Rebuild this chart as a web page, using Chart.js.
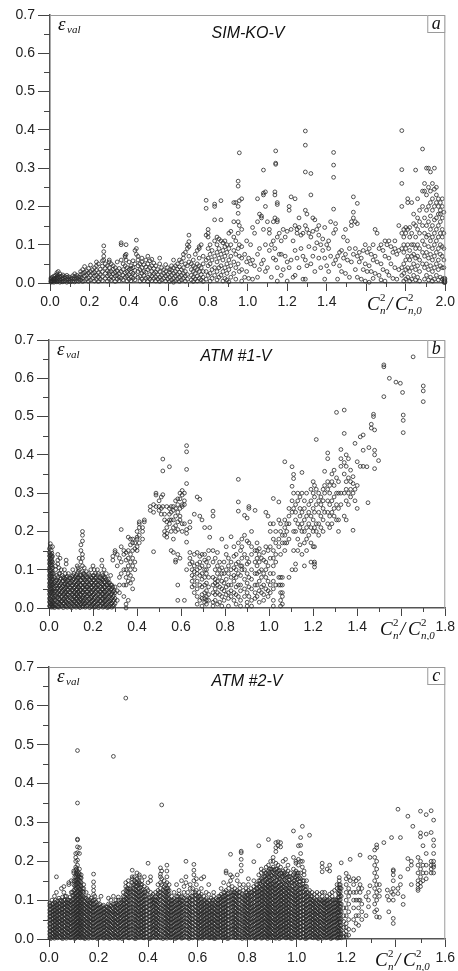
<!DOCTYPE html>
<html>
<head>
<meta charset="utf-8">
<script src="https://cdn.jsdelivr.net/npm/chart.js@4.4.1/dist/chart.umd.min.js"></script>
<style>
  body { margin: 0; background: #fff; width: 458px; height: 971px; overflow: hidden; }
  .panel { position: absolute; left: 0; width: 458px; }
</style>
</head>
<body>
<div class="panel" style="top:0;height:316px"><canvas id="chart-a"></canvas></div>
<div class="panel" style="top:320px;height:320px"><canvas id="chart-b"></canvas></div>
<div class="panel" style="top:645px;height:326px"><canvas id="chart-c"></canvas></div>
<script>
// each row: [x, y1, y2, ...]
const simKoV = [
  [0.005,.002,.006,.01,.004,.013],[0.012,.003,.008,.015,.005],[0.02,.002,.01,.018,.006,.012],
  [0.028,.004,.012,.02,.008],[0.035,.003,.009,.022,.015,.027],[0.042,.005,.013,.03,.019],
  [0.05,.002,.008,.016,.024],[0.058,.004,.011,.018],[0.065,.003,.009,.014,.021],
  [0.075,.005,.012,.017],[0.085,.002,.008,.015,.02],[0.095,.004,.01,.016],
  [0.105,.003,.009,.014],[0.115,.005,.012,.019],[0.125,.003,.01,.024,.017],
  [0.135,.006,.013,.02],[0.145,.004,.01,.016],[0.155,.008,.015,.022,.03],
  [0.165,.004,.012,.025,.035],[0.175,.006,.018,.028,.043],[0.185,.01,.021,.032],
  [0.195,.004,.014,.026,.038],[0.205,.008,.02,.047,.03],[0.215,.012,.025,.035],
  [0.225,.005,.018,.028,.04],[0.235,.009,.02,.033,.045,.055],[0.245,.004,.015,.027,.05],
  [0.255,.01,.022,.036],[0.265,.006,.017,.03,.044,.058],[0.272,.07,.082,.097,.06],
  [0.28,.012,.025,.038,.05],[0.29,.005,.018,.032,.045],[0.3,.01,.022,.028,.04,.055,.06],
  [0.31,.007,.016,.03,.05],[0.32,.012,.024,.036,.045],[0.33,.004,.018,.028,.04],
  [0.34,.01,.02,.032,.055],[0.35,.006,.015,.025,.038],[0.36,.012,.03,.06,.105,.1],
  [0.37,.008,.02,.035,.05],[0.38,.015,.027,.045,.068,.072],[0.385,.075,.1,.06],
  [0.39,.005,.018,.03,.04],[0.4,.01,.022,.035,.055],[0.41,.006,.015,.028,.045,.038],
  [0.42,.012,.025,.04,.058],[0.43,.008,.02,.033,.05,.085],[0.437,.112,.09,.075],
  [0.445,.015,.03,.045,.06,.07],[0.455,.005,.018,.035,.05],[0.465,.01,.025,.04,.055,.065],
  [0.475,.006,.02,.03,.048],[0.485,.012,.028,.042,.06],[0.495,.004,.015,.035,.05,.07],
  [0.505,.01,.022,.04,.058],[0.515,.006,.018,.03,.045,.062],[0.525,.012,.025,.038,.052],
  [0.535,.005,.016,.028,.045],[0.545,.01,.022,.035],[0.555,.004,.015,.03,.05,.065],
  [0.565,.008,.02,.04],[0.575,.012,.025,.035],[0.585,.005,.018,.03,.048],
  [0.595,.01,.022,.04],[0.605,.004,.015,.028,.035],[0.615,.008,.02,.033,.045],
  [0.625,.002,.012,.025,.06,.04],[0.635,.006,.018,.03,.045],[0.645,.01,.022,.036,.05],
  [0.655,.004,.015,.028,.042,.06],[0.665,.008,.02,.035,.055],[0.675,.012,.025,.04,.065,.075],
  [0.685,.005,.018,.03,.05,.08],[0.695,.01,.022,.045,.09,.1],[0.703,.125,.108,.095,.07,.055],
  [0.715,.008,.02,.035,.05],[0.725,.004,.015,.03,.045,.06],[0.735,.01,.025,.04,.075],
  [0.745,.005,.018,.035,.05,.085],[0.755,.012,.03,.045,.065,.095,.09],[0.765,.008,.022,.04,.1],
  [0.775,.004,.015,.03,.05,.07],[0.79,.216,.195,.125,.06,.03,.01],[0.8,.14,.13,.12,.09,.065,.045,.02],
  [0.81,.005,.025,.05,.075,.1],[0.82,.012,.035,.06,.085],[0.833,.206,.2,.165,.11,.07,.04,.02],
  [0.845,.008,.03,.055,.08,.1,.12],[0.855,.015,.04,.065,.09,.115],[0.865,.215,.165,.11,.075,.045,.02],
  [0.875,.005,.03,.06,.085,.105],[0.885,.012,.04,.07,.095,.11],[0.895,.008,.025,.05,.08,.1],
  [0.905,.003,.035,.06,.09,.13],[0.915,.015,.045,.07,.1,.135],[0.93,.21,.16,.12,.085,.055,.025],
  [0.94,.01,.04,.075,.11,.21],[0.952,.266,.253,.2,.182,.16,.13,.09,.05],[0.958,.34,.215,.15,.1,.07,.03],
  [0.97,.005,.035,.065,.095,.14,.22],
  [0.985,.015,.075],[0.995,.03,.11,.055],[1.005,.012,.065],[1.015,.05,.1],[1.025,.01,.06,.145],
  [1.035,.045,.13],[1.05,.22,.16,.075,.015],[1.06,.035,.09,.18],[1.07,.05,.17,.175],
  [1.08,.295,.235,.23,.14,.06],[1.09,.238,.2,.1,.03],[1.1,.04,.16],[1.11,.085,.13,.14],
  [1.12,.015,.1],[1.13,.065,.11,.16],[1.138,.238,.23,.17,.09],[1.142,.345,.313,.31,.06],
  [1.15,.21,.205,.165,.16,.12,.04,.005],[1.16,.075,.13],[1.17,.02,.11,.075],
  [1.18,.035,.14],[1.19,.07,.12],[1.2,.005,.055,.135],[1.21,.04,.2,.19],[1.22,.225,.14,.06],
  [1.23,.015,.11],[1.24,.22,.15,.085,.02],[1.25,.065,.13,.14],[1.26,.04,.145,.17],
  [1.27,.09,.125],[1.28,.01,.07,.13],[1.292,.397,.36,.29,.19,.15,.06,.01],
  [1.3,.045,.14,.18],[1.31,.095,.13],[1.32,.286,.23,.12,.05],[1.33,.07,.135,.17],
  [1.34,.03,.09,.165],[1.35,.105,.14],[1.36,.065,.125,.15],[1.37,.04,.1],[1.38,.085,.115],
  [1.39,.01,.065,.145],[1.4,.045,.1],[1.41,.03,.09,.11],[1.42,.07,.16],
  [1.435,.341,.308,.276,.193,.13,.05],[1.445,.06,.14,.155],[1.455,.01,.07],[1.465,.045,.08],
  [1.475,.03,.085],[1.485,.065,.12],[1.495,.025,.075,.14],[1.505,.06,.11],[1.515,.015,.09],
  [1.525,.055,.15,.16],[1.535,.225,.185,.17,.075],[1.545,.035,.09,.16],[1.555,.208,.155,.07,.015],
  [1.565,.055,.08],[1.575,.01,.065],[1.585,.035,.085],[1.595,.005,.05,.1],[1.605,.03,.08],
  [1.615,.002,.045,.09],[1.625,.03,.075],[1.635,.012,.06,.1],[1.645,.025,.07,.14],
  [1.655,.055,.13],[1.665,.02,.09],[1.675,.008,.05,.1],[1.685,.035,.085],[1.695,.005,.07,.11],
  [1.705,.03,.1],[1.715,.02,.065,.11],[1.725,.05,.095],[1.735,.012,.08],[1.745,.04,.09,.11],
  [1.755,.01,.075],[1.765,.035,.085,.15],
  [1.78,.398,.296,.26,.2,.13,.09,.04,.02],
  [1.79,.005,.025,.05,.08,.1,.12,.14],[1.8,.01,.035,.06,.09,.13,.145],[1.81,.015,.04,.07,.1,.14,.22,.21],
  [1.82,.005,.03,.06,.085,.12,.145],[1.83,.01,.04,.07,.1,.13,.21],[1.84,.02,.05,.075,.1,.155,.18],
  [1.85,.008,.035,.065,.09,.12,.15,.295],[1.86,.015,.045,.07,.1,.14,.17,.22],[1.87,.005,.03,.06,.09,.13,.16,.19],
  [1.885,.35,.24,.2,.15,.11,.08,.05],[1.895,.01,.04,.07,.1,.13,.17,.24,.26],[1.905,.02,.05,.08,.12,.15,.19,.23,.3],
  [1.915,.008,.035,.065,.095,.125,.16,.2,.25,.3],[1.925,.015,.045,.075,.11,.14,.175,.21,.24,.29],
  [1.935,.005,.03,.06,.09,.12,.15,.19,.22,.26],[1.945,.01,.04,.07,.1,.13,.165,.2,.245,.3],
  [1.955,.02,.05,.08,.11,.14,.17,.21,.23,.25],[1.965,.008,.035,.06,.09,.12,.15,.18,.2,.22],
  [1.975,.015,.045,.075,.1,.13,.16,.19,.21,.18],[1.985,.01,.04,.07,.095,.12,.14,.17,.2,.22],
  [1.993,.002,.006,.012,.04,.06,.09,.13,.185],[1.998,.001,.004,.008,.012]
];

const atm1V = [
  [0.002,.005,.016,.025,.036,.045,.056,.065,.076,.085,.096,.105,.116,.125,.136,.145,.155],
  [0.006,.003,.012,.022,.031,.042,.05,.061,.07,.082,.09,.1,.112,.12,.13,.14,.16,.168],
  [0.01,.008,.018,.028,.04,.048,.058,.068,.078,.088,.098,.108,.118,.128,.138,.15],
  [0.013,.002,.01,.02,.033,.043,.053,.063,.073,.083,.093,.103,.113,.123,.133,.143],
  [0.016,.005,.015,.03,.045,.06,.075,.09,.105,.12,.135,.16],
  [0.02,.004,.014,.026,.038,.05,.062,.075,.09],[0.03,.008,.02,.032,.044,.058,.07,.1,.11],
  [0.04,.003,.015,.028,.04,.052,.065,.08,.115,.125,.14],[0.05,.01,.022,.035,.048,.06,.075,.09,.13],
  [0.06,.005,.018,.03,.043,.056,.07,.085],[0.07,.012,.025,.038,.05,.063,.078,.1],
  [0.078,.004,.016,.03,.042,.055,.068,.08,.115,.125],[0.088,.009,.021,.034,.047,.06,.072,.09],
  [0.098,.003,.014,.027,.04,.052,.065,.078],[0.108,.01,.022,.035,.048,.06,.075,.085,.1],
  [0.118,.005,.017,.03,.042,.055,.068,.08],[0.128,.012,.025,.038,.05,.063,.078,.09,.11],
  [0.137,.004,.016,.028,.041,.054,.067,.08,.1,.13],[0.145,.009,.02,.033,.046,.06,.072,.085,.12,.15,.165],
  [0.152,.003,.014,.026,.04,.052,.065,.08,.095,.11,.13,.14,.175,.19,.2],[0.16,.01,.022,.035,.048,.06,.075,.09,.105],
  [0.17,.005,.017,.03,.042,.055,.068,.08,.095],[0.18,.012,.024,.037,.05,.062,.075,.09],
  [0.19,.004,.016,.028,.04,.053,.066,.08,.1],[0.2,.009,.021,.034,.047,.06,.073,.085,.11],
  [0.21,.003,.015,.027,.04,.052,.065,.078,.09],[0.22,.01,.022,.035,.048,.06,.072,.085,.1],
  [0.23,.005,.018,.03,.043,.056,.07,.08],[0.24,.012,.025,.038,.05,.063,.076,.09,.125,.11],
  [0.25,.004,.016,.029,.042,.055,.068,.08,.1],[0.26,.009,.02,.033,.046,.06,.075,.09],
  [0.27,.003,.015,.028,.04,.052,.065,.075],[0.28,.01,.022,.035,.048,.06,.085],
  [0.29,.005,.018,.03,.043,.055,.125,.135],[0.3,.012,.025,.04,.055,.145,.15],
  [0.31,.02,.045,.11,.14],[0.32,.04,.06,.08,.13],[0.328,.205,.16,.12,.09],
  [0.34,.1,.14,.03,.06,.15],[0.35,.0,.01,.06,.08,.1,.125,.145],[0.36,.02,.07,.09,.11,.13,.15,.185],
  [0.37,.065,.085,.1,.12,.14,.165,.18],[0.38,.05,.075,.11,.13,.15,.17,.18],[0.39,.1,.12,.155,.17],
  [0.4,.15,.16,.18,.185,.2],[0.41,.17,.19,.21,.225,.22],[0.425,.18,.2,.21],[0.433,.23,.225],
  [0.46,.265,.255],[0.475,.147,.27,.25],[0.486,.3,.295,.265],[0.5,.265,.255,.28],
  [0.51,.26,.29,.245],[0.517,.389,.358,.296,.265],[0.525,.23,.245,.19,.2],
  [0.535,.265,.195,.185,.21,.225],[0.547,.369,.26,.245,.22,.23],[0.555,.265,.25,.23,.2,.15],
  [0.565,.265,.255,.23,.21,.18,.145],[0.575,.26,.28,.24,.215,.2,.125,.12],
  [0.585,.285,.27,.25,.225,.205,.06,.02,.14],[0.595,.3,.285,.26,.24,.23,.13],
  [0.605,.307,.295,.27,.265,.22,.2],[0.615,.3,.28,.27,.22,.02],
  [0.625,.424,.408,.362,.325,.205,.195,.172,.1],[0.64,.225,.21,.145,.13,.115],
  [0.65,.12,.1,.085,.07,.055],[0.66,.245,.14,.11,.095,.08,.06,.04],
  [0.673,.29,.145,.115,.1,.09,.07,.05,.03,.01],[0.685,.284,.24,.135,.12,.105,.085,.06,.02],
  [0.695,.23,.14,.11,.09,.075,.055,.035,.025,.005],[0.707,.21,.14,.125,.1,.08,.06,.04,.025,.015],
  [0.715,.12,.1,.09,.065,.045,.03,.02,.01],[0.725,.15,.13,.11,.08,.055,.035,.02],[0.73,.21,.185],
  [0.745,.253,.24,.15,.12,.08,.06,.04,.015,.005],[0.755,.13,.1,.075,.065,.05,.035,.02],
  [0.765,.145,.11,.09,.07,.06,.04,.01],[0.775,.12,.1,.08,.055,.035,.015],
  [0.785,.18,.105,.09,.07,.05,.03,.005],[0.795,.12,.09,.065,.045,.02],
  [0.805,.16,.14,.1,.075,.055,.035],[0.815,.13,.11,.09,.06,.04,.025,.005],
  [0.827,.186,.12,.1,.08,.06,.045,.03],[0.84,.16,.135,.105,.085,.07,.04,.02],
  [0.85,.14,.115,.1,.08,.055,.035,.01],[0.86,.336,.277,.253,.17,.12,.09,.06,.03],
  [0.87,.15,.11,.085,.06,.045,.02,.005],[0.876,.18,.16,.13,.11,.1],
  [0.888,.242,.19,.14,.1,.075,.05,.03],[0.9,.235,.175,.13,.115,.09,.065,.04,.015,.005],
  [0.908,.265,.26,.17,.12,.08,.055,.03],[0.92,.2,.16,.14,.1,.075,.05,.02,.005],
  [0.936,.255,.15,.12,.09,.06,.04,.025],[0.945,.17,.15,.13,.11,.09,.06,.03],
  [0.955,.155,.14,.12,.095,.07,.045,.015],[0.965,.13,.1,.08,.055,.04],
  [0.975,.145,.125,.09,.06,.035,.02],[0.985,.25,.16,.12,.1,.08,.05],
  [0.995,.24,.15,.11,.07,.045,.03],[1.005,.22,.2,.16,.13,.09,.06,.04],
  [1.019,.286,.22,.18,.15,.13,.11,.09,.07,.05,.02,.005],[1.03,.2,.17,.14,.12,.06],
  [1.044,.277,.23,.18,.16,.08,.06],[1.052,.22,.2,.14,.08,.06,.04,.02,.005],
  [1.06,.19,.17,.08,.06,.04,.03,.01],[1.071,.382,.23,.21,.19,.17,.15],[1.08,.22,.2,.17],
  [1.09,.26,.24,.22,.18,.08],[1.104,.369,.318,.28,.25,.1],[1.111,.349,.338,.3,.26,.2,.15],
  [1.12,.27,.25,.23,.2,.115,.1],[1.13,.3,.28,.22,.18,.15],[1.14,.29,.26,.24,.21,.165],
  [1.149,.354,.3,.25,.22,.2,.14],[1.16,.28,.26,.23,.2,.17,.11],[1.17,.3,.24,.21,.18,.15],
  [1.18,.27,.25,.22,.19],[1.19,.31,.28,.24,.21,.17,.12],[1.2,.33,.3,.26,.23,.2,.16],
  [1.206,.32,.29,.25,.21,.16,.12,.115,.107],[1.214,.44,.31,.27,.22,.2],[1.225,.3,.28,.25,.22,.19],
  [1.235,.29,.27,.24,.21],[1.245,.31,.28,.26,.23,.2],[1.252,.357,.32,.3,.25],
  [1.266,.405,.39,.33,.31,.28,.25,.22],[1.275,.32,.3,.27,.24,.21],[1.285,.35,.33,.28,.25,.22],
  [1.295,.36,.32,.29,.26,.24],[1.306,.511,.34,.3,.27,.23],[1.315,.33,.3,.26,.23,.2],
  [1.326,.414,.39,.37,.3,.27],[1.341,.517,.456,.38,.35,.3,.24],[1.35,.4,.37,.33,.31,.28,.23],
  [1.36,.39,.34,.3,.27],[1.37,.36,.33,.31,.29],[1.381,.343,.325,.3,.203],[1.39,.43,.31,.28],
  [1.4,.382,.32,.26],[1.414,.447,.37],[1.427,.452,.412,.37],[1.444,.369],[1.449,.275],
  [1.453,.419],[1.464,.48,.47],[1.474,.506,.5],[1.479,.465,.412,.4,.364],[1.497,.385],
  [1.521,.635,.63,.552],[1.546,.6],[1.576,.59],[1.596,.587],[1.606,.563],
  [1.609,.504,.49,.458],[1.654,.656],[1.7,.58,.567,.539]
];

// the dark block near the origin of panel b, between the columns above
const atm1VDense = [
  [0.025,.001,.01,.02,.03,.042,.053,.066,.08],[0.035,.005,.016,.027,.038,.05,.061,.073,.085],
  [0.045,.002,.012,.024,.035,.046,.058,.07,.09,.105],[0.055,.007,.018,.03,.041,.052,.064,.077,.1],
  [0.065,.001,.012,.023,.035,.046,.058,.07,.08],[0.074,.006,.017,.028,.04,.052,.063,.075,.09],
  [0.083,.002,.013,.025,.036,.048,.06,.072,.083],[0.093,.007,.018,.03,.042,.054,.066,.078],
  [0.103,.001,.012,.024,.035,.047,.059,.07,.082],[0.113,.006,.017,.029,.04,.052,.064,.076,.09],
  [0.123,.002,.013,.025,.037,.048,.06,.072,.085],[0.132,.007,.019,.03,.042,.054,.066,.08,.095,.105],
  [0.141,.001,.012,.024,.036,.048,.06,.072,.085],[0.156,.006,.018,.03,.042,.054,.066,.078,.09],
  [0.165,.002,.013,.025,.037,.049,.061,.073,.085],[0.175,.007,.019,.031,.043,.055,.067,.08],
  [0.185,.001,.012,.024,.036,.048,.06,.072,.085],[0.195,.006,.018,.03,.042,.054,.066,.078],
  [0.205,.002,.013,.025,.037,.049,.061,.073,.085,.1],[0.215,.007,.019,.031,.043,.055,.067,.08],
  [0.225,.001,.012,.024,.036,.048,.06,.072,.09],[0.235,.006,.018,.03,.042,.054,.066,.078],
  [0.245,.002,.013,.025,.037,.049,.061,.073,.085],[0.255,.007,.019,.031,.043,.055,.067,.08],
  [0.265,.001,.012,.024,.036,.048,.06,.07],[0.275,.006,.018,.03,.042,.054,.066],
  [0.285,.002,.013,.025,.037,.05,.06],[0.295,.007,.02,.033,.045]
];

const atm2V = [
  [0.003,.003,.012,.02,.03,.04,.05,.058,.067,.075,.085,.092],
  [0.012,.006,.015,.024,.033,.043,.052,.062,.07,.08,.09,.1],
  [0.022,.002,.01,.019,.028,.037,.047,.056,.065,.074,.083,.095,.11],
  [0.03,.005,.014,.023,.032,.042,.051,.06,.07,.079,.088,.16,.12],
  [0.04,.008,.017,.026,.036,.045,.054,.064,.073,.082,.092,.105],
  [0.05,.003,.012,.021,.03,.04,.049,.058,.068,.077,.087,.098,.13],
  [0.06,.006,.015,.025,.034,.043,.053,.062,.071,.081,.09,.1,.12,.135],
  [0.07,.002,.011,.02,.029,.039,.048,.057,.067,.076,.086,.095,.11],
  [0.08,.007,.016,.025,.035,.044,.053,.063,.072,.082,.091,.1,.14,.145],
  [0.09,.004,.013,.022,.031,.041,.05,.06,.069,.078,.088,.097,.12,.15],
  [0.1,.008,.017,.026,.036,.045,.055,.064,.073,.083,.092,.102,.112,.125,.14,.15,.17,.175],
  [0.108,.003,.012,.021,.031,.04,.05,.059,.068,.078,.087,.097,.107,.118,.13,.14,.152,.165,.178,.185,.2,.21,.22],
  [0.115,.007,.016,.025,.035,.044,.054,.063,.072,.082,.092,.102,.112,.122,.134,.145,.155,.166,.175,.19,.203,.222,.237,.257,.255,.35,.485],
  [0.123,.004,.013,.022,.032,.041,.05,.06,.069,.079,.088,.098,.108,.118,.128,.14,.15,.16,.168,.18,.235,.22],
  [0.13,.008,.017,.027,.036,.046,.055,.065,.074,.084,.093,.103,.113,.124,.135,.145,.157,.165],
  [0.14,.003,.012,.021,.031,.04,.05,.059,.069,.078,.088,.097,.108,.12,.13,.14],
  [0.15,.006,.015,.025,.034,.044,.053,.063,.072,.082,.092,.105,.12],
  [0.16,.002,.011,.02,.03,.039,.049,.058,.068,.077,.087,.096,.11],
  [0.17,.007,.016,.026,.035,.045,.054,.064,.073,.083,.093,.105],
  [0.18,.004,.013,.023,.032,.042,.051,.061,.07,.08,.09,.1,.115,.125,.135,.147,.167],
  [0.19,.008,.017,.027,.036,.046,.055,.065,.074,.084,.095],
  [0.2,.003,.012,.022,.031,.041,.05,.06,.069,.079,.088,.1],
  [0.21,.006,.015,.025,.034,.044,.053,.063,.072,.082,.11],
  [0.22,.002,.011,.021,.03,.04,.049,.059,.068,.078,.087],
  [0.23,.007,.016,.026,.035,.045,.054,.064,.073,.083],
  [0.24,.004,.013,.023,.032,.042,.051,.061,.07,.08,.09,.105],
  [0.25,.008,.017,.027,.036,.046,.055,.065,.074,.085,.1],
  [0.26,.003,.012,.022,.031,.041,.05,.06,.069,.079,.09,.11,.47],
  [0.27,.006,.015,.025,.034,.044,.053,.063,.072,.082,.092,.1],
  [0.28,.002,.011,.021,.03,.04,.049,.059,.068,.078,.088,.1,.108],
  [0.29,.007,.016,.026,.035,.045,.054,.064,.073,.083,.093,.1],
  [0.3,.004,.013,.023,.032,.042,.051,.061,.07,.08,.09,.1,.11,.12],
  [0.31,.008,.017,.027,.036,.046,.055,.065,.074,.084,.094,.104,.115,.125,.135,.145,.62],
  [0.32,.003,.012,.022,.031,.041,.05,.06,.069,.079,.089,.1,.11,.12,.13,.14,.15],
  [0.33,.006,.015,.025,.034,.044,.053,.063,.072,.082,.092,.102,.112,.122,.13],
  [0.336,.16,.177,.155,.145],
  [0.345,.002,.011,.021,.03,.04,.049,.059,.068,.078,.088,.098,.108,.118,.128,.14,.15,.16],
  [0.355,.007,.016,.026,.035,.045,.054,.064,.073,.083,.093,.103,.113,.123,.135,.145,.155,.17],
  [0.365,.004,.013,.023,.032,.042,.051,.061,.07,.08,.09,.1,.11,.12,.13,.145,.16,.165],
  [0.375,.008,.017,.027,.036,.046,.055,.065,.074,.084,.094,.104,.115,.125,.14,.15],
  [0.385,.003,.012,.022,.031,.041,.05,.06,.069,.079,.089,.1,.11,.12,.135,.16],
  [0.395,.006,.015,.025,.034,.044,.053,.063,.072,.082,.092,.102,.115,.13],
  [0.4,.195,.145,.125],
  [0.41,.002,.011,.021,.03,.04,.049,.059,.068,.078,.088,.098,.108,.12,.16,.15],
  [0.42,.007,.016,.026,.035,.045,.054,.064,.073,.083,.093,.103,.115],
  [0.43,.004,.013,.023,.032,.042,.051,.061,.07,.08,.09,.1,.11,.12],
  [0.44,.008,.017,.027,.036,.046,.055,.065,.074,.084,.094,.104,.115,.125,.14],
  [0.45,.003,.012,.022,.031,.041,.05,.06,.069,.079,.089,.1,.11,.12,.13,.145,.16,.167,.183],
  [0.455,.345,.175,.155,.14],
  [0.465,.006,.015,.025,.034,.044,.053,.063,.072,.082,.092,.102,.112,.122,.135,.15],
  [0.476,.002,.011,.021,.03,.04,.049,.059,.068,.078,.088,.098,.108,.118,.13,.145,.16,.175,.19],
  [0.485,.007,.016,.026,.035,.045,.054,.064,.073,.083,.093,.103,.115,.125,.14],
  [0.495,.004,.013,.023,.032,.042,.051,.061,.07,.08,.09,.1,.11],
  [0.505,.008,.017,.027,.036,.046,.055,.065,.074,.084,.094,.104,.12],
  [0.515,.003,.012,.022,.031,.041,.05,.06,.069,.079,.089,.1,.11,.14],
  [0.525,.006,.015,.025,.034,.044,.053,.063,.072,.082,.092,.102,.115,.125],
  [0.535,.002,.011,.021,.03,.04,.049,.059,.068,.078,.088,.098,.11,.15],
  [0.545,.007,.016,.026,.035,.045,.054,.064,.073,.083,.093,.105,.12,.135],
  [0.553,.2,.16,.145],
  [0.56,.004,.013,.023,.032,.042,.051,.061,.07,.08,.09,.1,.11,.12],
  [0.57,.008,.017,.027,.036,.046,.055,.065,.074,.084,.094,.105,.13,.14],
  [0.58,.003,.012,.022,.031,.041,.05,.06,.069,.079,.089,.1,.11,.12,.13],
  [0.585,.192,.177,.165,.15],
  [0.595,.006,.015,.025,.034,.044,.053,.063,.072,.082,.092,.102,.112,.125,.14,.155],
  [0.605,.002,.011,.021,.03,.04,.049,.059,.068,.078,.088,.098,.11,.12],
  [0.615,.007,.016,.026,.035,.045,.054,.064,.073,.083,.093,.103,.115,.13,.155],
  [0.625,.004,.013,.023,.032,.042,.051,.061,.07,.08,.09,.1,.11,.16],
  [0.635,.008,.017,.027,.036,.046,.055,.065,.074,.084,.094,.104,.12],
  [0.645,.003,.012,.022,.031,.041,.05,.06,.069,.079,.089,.1,.115,.14],
  [0.655,.006,.015,.025,.034,.044,.053,.063,.072,.082,.092,.105],
  [0.665,.002,.011,.021,.03,.04,.049,.059,.068,.078,.088,.1,.11,.12],
  [0.675,.007,.016,.026,.035,.045,.054,.064,.073,.083,.093,.104],
  [0.685,.004,.013,.023,.032,.042,.051,.061,.07,.08,.09,.1,.11],
  [0.695,.008,.017,.027,.036,.046,.055,.065,.074,.084,.094,.104,.115,.13],
  [0.705,.003,.012,.022,.031,.041,.05,.06,.069,.079,.089,.1,.11,.12,.145],
  [0.715,.006,.015,.025,.034,.044,.053,.063,.072,.082,.092,.102,.112,.125,.17,.175],
  [0.725,.002,.011,.021,.03,.04,.049,.059,.068,.078,.088,.098,.108,.118,.13,.14],
  [0.733,.218,.165,.15],
  [0.74,.007,.016,.026,.035,.045,.054,.064,.073,.083,.093,.103,.113,.125,.135,.16],
  [0.75,.004,.013,.023,.032,.042,.051,.061,.07,.08,.09,.1,.11,.12,.13],
  [0.76,.008,.017,.027,.036,.046,.055,.065,.074,.084,.094,.104,.115,.125,.15,.165],
  [0.77,.003,.012,.022,.031,.041,.05,.06,.069,.079,.089,.1,.11,.12,.13,.14],
  [0.776,.226,.222,.205,.19,.175],
  [0.785,.006,.015,.025,.034,.044,.053,.063,.072,.082,.092,.102,.112,.125,.14],
  [0.795,.002,.011,.021,.03,.04,.049,.059,.068,.078,.088,.098,.108,.12,.13],
  [0.805,.007,.016,.026,.035,.045,.054,.064,.073,.083,.093,.103,.113,.125,.14,.155],
  [0.815,.004,.013,.023,.032,.042,.051,.061,.07,.08,.09,.1,.11,.12,.13],
  [0.827,.008,.017,.027,.036,.046,.055,.065,.074,.084,.094,.104,.115,.125,.135,.15,.199],
  [0.837,.003,.012,.022,.031,.041,.05,.06,.069,.079,.089,.1,.11,.12,.13,.14],
  [0.847,.006,.015,.025,.034,.044,.053,.063,.072,.082,.092,.102,.112,.122,.135,.15,.165,.24],
  [0.857,.002,.011,.021,.03,.04,.049,.059,.068,.078,.088,.098,.108,.118,.128,.14,.155,.17,.18],
  [0.867,.007,.016,.026,.035,.045,.054,.064,.073,.083,.093,.103,.113,.123,.133,.145,.16,.175],
  [0.877,.004,.013,.023,.032,.042,.051,.061,.07,.08,.09,.1,.11,.12,.13,.14,.155,.17,.185],
  [0.886,.008,.017,.027,.036,.046,.055,.065,.074,.084,.094,.104,.114,.124,.134,.145,.16,.175,.19,.256],
  [0.895,.003,.012,.022,.031,.041,.05,.06,.069,.079,.089,.099,.109,.119,.13,.14,.15,.165,.18,.2],
  [0.905,.006,.015,.025,.034,.044,.053,.063,.072,.082,.092,.102,.112,.122,.132,.142,.155,.17,.185,.2,.21],
  [0.916,.002,.011,.021,.03,.04,.049,.059,.068,.078,.088,.098,.108,.118,.128,.138,.15,.165,.18,.195,.225,.235,.248],
  [0.925,.007,.016,.026,.035,.045,.054,.064,.073,.083,.093,.103,.113,.123,.133,.145,.16,.175,.19,.24,.25],
  [0.935,.004,.013,.023,.032,.042,.051,.061,.07,.08,.09,.1,.11,.12,.13,.14,.155,.17,.185,.237,.248],
  [0.945,.008,.017,.027,.036,.046,.055,.065,.074,.084,.094,.104,.114,.124,.134,.145,.16,.175,.2],
  [0.955,.003,.012,.022,.031,.041,.05,.06,.069,.079,.089,.099,.109,.119,.13,.14,.15,.165,.18,.205],
  [0.965,.006,.015,.025,.034,.044,.053,.063,.072,.082,.092,.102,.112,.122,.132,.145,.16,.175,.19],
  [0.975,.002,.011,.021,.03,.04,.049,.059,.068,.078,.088,.098,.108,.118,.13,.145,.16,.17],
  [0.987,.007,.016,.026,.035,.045,.054,.064,.073,.083,.093,.103,.113,.123,.135,.15,.165,.18,.21,.278],
  [0.997,.004,.013,.023,.032,.042,.051,.061,.07,.08,.09,.1,.11,.12,.13,.145,.16,.175,.195,.2],
  [1.007,.008,.017,.027,.036,.046,.055,.065,.074,.084,.094,.104,.114,.125,.14,.155,.17,.19,.205,.24],
  [1.016,.003,.012,.022,.031,.041,.05,.06,.069,.079,.089,.1,.11,.12,.13,.14,.155,.17,.2,.22,.241,.261],
  [1.023,.29,.2,.185],
  [1.03,.006,.015,.025,.034,.044,.053,.063,.072,.082,.092,.102,.112,.122,.135,.15,.165,.175],
  [1.04,.002,.011,.021,.03,.04,.049,.059,.068,.078,.088,.098,.108,.12,.135,.15],
  [1.052,.007,.016,.026,.035,.045,.054,.064,.073,.083,.093,.103,.115,.125,.267],
  [1.062,.004,.013,.023,.032,.042,.051,.061,.07,.08,.09,.1,.11,.12],
  [1.072,.008,.017,.027,.036,.046,.055,.065,.074,.084,.094,.104,.115],
  [1.082,.003,.012,.022,.031,.041,.05,.06,.069,.079,.089,.1,.11,.12],
  [1.092,.006,.015,.025,.034,.044,.053,.063,.072,.082,.092,.102,.115],
  [1.103,.002,.011,.021,.03,.04,.049,.059,.068,.078,.088,.098,.11,.12,.173,.185,.195],
  [1.113,.007,.016,.026,.035,.045,.054,.064,.073,.083,.093,.103,.12],
  [1.123,.004,.013,.023,.032,.042,.051,.061,.07,.08,.09,.1,.11,.18],
  [1.133,.008,.017,.027,.036,.046,.055,.065,.074,.084,.094,.104,.115,.175,.19],
  [1.143,.003,.012,.022,.031,.041,.05,.06,.069,.079,.089,.1,.11,.12],
  [1.153,.006,.015,.025,.034,.044,.053,.063,.072,.082,.092,.102,.125],
  [1.163,.002,.011,.021,.03,.04,.049,.059,.068,.078,.088,.1,.13,.14],
  [1.172,.004,.012,.02,.028,.036,.044,.052,.06,.068,.076,.084,.092,.1,.108,.116,.124,.132,.14,.15,.158],
  [1.18,.003,.012,.022,.035,.05,.07,.09,.11,.13,.196],[1.19,.005,.015,.03,.045,.06,.08],
  [1.2,.005,.01,.02,.03,.04,.06,.08,.1,.12,.14,.155,.169],[1.21,.01,.025,.05,.07,.09,.11,.13,.16],
  [1.216,.205,.15,.12],[1.23,.023,.05,.08,.1,.12,.14,.155],[1.24,.04,.06,.1,.12,.15],
  [1.25,.035,.06,.08,.1,.13,.156],[1.256,.216,.14,.12,.1],[1.263,.05,.07,.09,.13],
  [1.28,.109,.06],[1.29,.083,.1,.12],[1.296,.21,.137],
  [1.315,.07,.09,.11,.13,.15,.17,.19,.21,.229],[1.323,.057,.075,.1,.12,.14,.16,.18,.2,.242,.235],
  [1.334,.056,.11,.125,.14],[1.352,.248],[1.366,.126,.11],[1.372,.07,.1],[1.383,.261,.12],
  [1.39,.04,.053,.1,.115,.13,.15,.165,.175,.178],[1.409,.334,.13,.117],[1.419,.261,.16,.14],
  [1.43,.109,.089],[1.449,.316,.207,.18],[1.463,.19,.2,.14],[1.469,.29],
  [1.49,.21,.19,.17,.15,.14,.13,.125],[1.5,.329,.263,.273,.2,.18,.16,.145,.135],
  [1.51,.24,.19,.17,.15],[1.523,.32,.27,.22,.19,.17,.155],[1.543,.33,.274,.2,.19,.18,.17],
  [1.553,.306,.255,.24,.22,.2,.19,.185,.17]
];

// the solid black mass of panel c, between the columns above
const atm2VDense = [
  [0.007,.001,.01,.02,.029,.039,.048,.058,.067,.077,.086],[0.017,.005,.014,.024,.033,.043,.052,.062,.071,.081,.09],
  [0.026,.008,.017,.027,.036,.046,.055,.065,.074,.084,.093,.1],[0.035,.003,.012,.022,.031,.041,.05,.06,.069,.079,.088,.098],
  [0.045,.006,.015,.025,.034,.044,.053,.063,.072,.082,.091,.1],[0.055,.001,.01,.02,.029,.039,.048,.058,.067,.077,.086,.096,.108],
  [0.065,.005,.014,.024,.033,.043,.052,.062,.071,.081,.09,.1,.11],[0.075,.008,.017,.027,.036,.046,.055,.065,.074,.084,.093,.1],
  [0.085,.003,.012,.022,.031,.041,.05,.06,.069,.079,.088,.098,.108],[0.095,.006,.015,.025,.034,.044,.053,.063,.072,.082,.091,.101,.112,.12],
  [0.104,.001,.01,.02,.029,.039,.048,.058,.067,.077,.086,.096,.106,.116,.127,.137,.148,.16],
  [0.111,.005,.014,.024,.033,.043,.052,.062,.071,.081,.09,.1,.11,.12,.13,.14,.15,.16,.17,.18],
  [0.119,.008,.017,.027,.036,.046,.055,.065,.074,.084,.093,.103,.113,.123,.133,.143,.153,.163,.17],
  [0.127,.003,.012,.022,.031,.041,.05,.06,.069,.079,.088,.098,.108,.118,.128,.138,.148,.158],
  [0.135,.006,.015,.025,.034,.044,.053,.063,.072,.082,.091,.101,.111,.122,.13],
  [0.145,.001,.01,.02,.029,.039,.048,.058,.067,.077,.086,.096,.106],[0.155,.005,.014,.024,.033,.043,.052,.062,.071,.081,.09,.1],
  [0.165,.008,.017,.027,.036,.046,.055,.065,.074,.084,.093,.1],[0.175,.003,.012,.022,.031,.041,.05,.06,.069,.079,.088,.098],
  [0.185,.006,.015,.025,.034,.044,.053,.063,.072,.082,.091,.101,.11],[0.195,.001,.01,.02,.029,.039,.048,.058,.067,.077,.086],
  [0.205,.005,.014,.024,.033,.043,.052,.062,.071,.081,.09],[0.215,.008,.017,.027,.036,.046,.055,.065,.074,.084],
  [0.225,.003,.012,.022,.031,.041,.05,.06,.069,.078],[0.235,.006,.015,.025,.034,.044,.053,.063,.072,.082],
  [0.245,.001,.01,.02,.029,.039,.048,.058,.067,.077,.087],[0.255,.005,.014,.024,.033,.043,.052,.062,.071,.081],
  [0.265,.008,.017,.027,.036,.046,.055,.065,.074,.084,.09],[0.275,.003,.012,.022,.031,.041,.05,.06,.069,.079,.088],
  [0.285,.006,.015,.025,.034,.044,.053,.063,.072,.082,.091],[0.295,.001,.01,.02,.029,.039,.048,.058,.067,.077,.086,.096],
  [0.305,.005,.014,.024,.033,.043,.052,.062,.071,.081,.09,.1,.108],
  [0.315,.008,.017,.027,.036,.046,.055,.065,.074,.084,.093,.103,.113,.122,.13],
  [0.325,.003,.012,.022,.031,.041,.05,.06,.069,.079,.088,.098,.108,.118,.128],
  [0.34,.006,.015,.025,.034,.044,.053,.063,.072,.082,.091,.101,.111,.121,.131,.14],
  [0.35,.001,.01,.02,.029,.039,.048,.058,.067,.077,.086,.096,.106,.116,.126,.136,.146],
  [0.36,.005,.014,.024,.033,.043,.052,.062,.071,.081,.09,.1,.11,.12,.13,.14,.15],
  [0.37,.008,.017,.027,.036,.046,.055,.065,.074,.084,.093,.103,.113,.123,.133,.14],
  [0.38,.003,.012,.022,.031,.041,.05,.06,.069,.079,.088,.098,.108,.118,.128],
  [0.39,.006,.015,.025,.034,.044,.053,.063,.072,.082,.091,.101,.111,.12],
  [0.405,.001,.01,.02,.029,.039,.048,.058,.067,.077,.086,.096,.106],[0.415,.005,.014,.024,.033,.043,.052,.062,.071,.081,.09,.1,.11],
  [0.425,.008,.017,.027,.036,.046,.055,.065,.074,.084,.093,.1],[0.435,.003,.012,.022,.031,.041,.05,.06,.069,.079,.088,.098,.108],
  [0.445,.006,.015,.025,.034,.044,.053,.063,.072,.082,.091,.101,.111,.12],
  [0.46,.001,.01,.02,.029,.039,.048,.058,.067,.077,.086,.096,.106,.116,.126],
  [0.47,.005,.014,.024,.033,.043,.052,.062,.071,.081,.09,.1,.11,.12,.13,.14],
  [0.48,.008,.017,.027,.036,.046,.055,.065,.074,.084,.093,.103,.113,.123,.13],
  [0.49,.003,.012,.022,.031,.041,.05,.06,.069,.079,.088,.098],[0.5,.006,.015,.025,.034,.044,.053,.063,.072,.082,.091,.1],
  [0.51,.001,.01,.02,.029,.039,.048,.058,.067,.077,.086,.096],[0.52,.005,.014,.024,.033,.043,.052,.062,.071,.081,.09,.1,.11],
  [0.53,.008,.017,.027,.036,.046,.055,.065,.074,.084,.093,.1],[0.54,.003,.012,.022,.031,.041,.05,.06,.069,.079,.088,.098,.108],
  [0.555,.006,.015,.025,.034,.044,.053,.063,.072,.082,.091,.1],[0.565,.001,.01,.02,.029,.039,.048,.058,.067,.077,.086,.096,.106],
  [0.575,.005,.014,.024,.033,.043,.052,.062,.071,.081,.09,.1,.11],[0.59,.008,.017,.027,.036,.046,.055,.065,.074,.084,.093,.103,.113,.12],
  [0.6,.003,.012,.022,.031,.041,.05,.06,.069,.079,.088,.098,.108],[0.61,.006,.015,.025,.034,.044,.053,.063,.072,.082,.091,.101,.11],
  [0.62,.001,.01,.02,.029,.039,.048,.058,.067,.077,.086,.096],[0.63,.005,.014,.024,.033,.043,.052,.062,.071,.081,.09,.1],
  [0.64,.008,.017,.027,.036,.046,.055,.065,.074,.084,.093],[0.65,.003,.012,.022,.031,.041,.05,.06,.069,.079,.088,.098],
  [0.66,.006,.015,.025,.034,.044,.053,.063,.072,.082,.091,.1],[0.67,.001,.01,.02,.029,.039,.048,.058,.067,.077,.086,.096],
  [0.68,.005,.014,.024,.033,.043,.052,.062,.071,.081,.09,.1],[0.69,.008,.017,.027,.036,.046,.055,.065,.074,.084,.093,.103,.11],
  [0.7,.003,.012,.022,.031,.041,.05,.06,.069,.079,.088,.098,.108],[0.71,.006,.015,.025,.034,.044,.053,.063,.072,.082,.091,.101,.111,.12],
  [0.72,.001,.01,.02,.029,.039,.048,.058,.067,.077,.086,.096,.106,.116],[0.735,.005,.014,.024,.033,.043,.052,.062,.071,.081,.09,.1,.11,.12],
  [0.745,.008,.017,.027,.036,.046,.055,.065,.074,.084,.093,.103,.113,.12],[0.755,.003,.012,.022,.031,.041,.05,.06,.069,.079,.088,.098,.108,.118],
  [0.765,.006,.015,.025,.034,.044,.053,.063,.072,.082,.091,.101,.111,.12],[0.78,.001,.01,.02,.029,.039,.048,.058,.067,.077,.086,.096,.106,.116],
  [0.79,.005,.014,.024,.033,.043,.052,.062,.071,.081,.09,.1,.11],[0.8,.008,.017,.027,.036,.046,.055,.065,.074,.084,.093,.103,.113,.12],
  [0.81,.003,.012,.022,.031,.041,.05,.06,.069,.079,.088,.098,.108,.118],[0.82,.006,.015,.025,.034,.044,.053,.063,.072,.082,.091,.101,.111,.12],
  [0.832,.001,.01,.02,.029,.039,.048,.058,.067,.077,.086,.096,.106,.116,.126],
  [0.842,.005,.014,.024,.033,.043,.052,.062,.071,.081,.09,.1,.11,.12,.13,.14],
  [0.852,.008,.017,.027,.036,.046,.055,.065,.074,.084,.093,.103,.113,.123,.133,.143,.15],
  [0.862,.003,.012,.022,.031,.041,.05,.06,.069,.079,.088,.098,.108,.118,.128,.138,.148,.158],
  [0.872,.006,.015,.025,.034,.044,.053,.063,.072,.082,.091,.101,.111,.121,.131,.141,.151,.161,.17],
  [0.882,.001,.01,.02,.029,.039,.048,.058,.067,.077,.086,.096,.106,.116,.126,.136,.146,.156,.166],
  [0.89,.005,.014,.024,.033,.043,.052,.062,.071,.081,.09,.1,.11,.12,.13,.14,.15,.16,.17,.18],
  [0.9,.008,.017,.027,.036,.046,.055,.065,.074,.084,.093,.103,.113,.123,.133,.143,.153,.163,.173,.18],
  [0.91,.003,.012,.022,.031,.041,.05,.06,.069,.079,.088,.098,.108,.118,.128,.138,.148,.158,.168,.178],
  [0.92,.006,.015,.025,.034,.044,.053,.063,.072,.082,.091,.101,.111,.121,.131,.141,.151,.161,.171,.18],
  [0.93,.001,.01,.02,.029,.039,.048,.058,.067,.077,.086,.096,.106,.116,.126,.136,.146,.156,.166,.176],
  [0.94,.005,.014,.024,.033,.043,.052,.062,.071,.081,.09,.1,.11,.12,.13,.14,.15,.16,.17],
  [0.95,.008,.017,.027,.036,.046,.055,.065,.074,.084,.093,.103,.113,.123,.133,.143,.153,.163,.17],
  [0.96,.003,.012,.022,.031,.041,.05,.06,.069,.079,.088,.098,.108,.118,.128,.138,.148,.158,.168],
  [0.97,.006,.015,.025,.034,.044,.053,.063,.072,.082,.091,.101,.111,.121,.131,.141,.151,.16],
  [0.981,.001,.01,.02,.029,.039,.048,.058,.067,.077,.086,.096,.106,.116,.126,.136,.146,.156],
  [0.992,.005,.014,.024,.033,.043,.052,.062,.071,.081,.09,.1,.11,.12,.13,.14,.15,.16,.17],
  [1.002,.008,.017,.027,.036,.046,.055,.065,.074,.084,.093,.103,.113,.123,.133,.143,.153,.163,.17],
  [1.012,.003,.012,.022,.031,.041,.05,.06,.069,.079,.088,.098,.108,.118,.128,.138,.148,.158],
  [1.025,.006,.015,.025,.034,.044,.053,.063,.072,.082,.091,.101,.111,.121,.131,.141,.15],
  [1.035,.001,.01,.02,.029,.039,.048,.058,.067,.077,.086,.096,.106,.116,.126,.136],
  [1.046,.005,.014,.024,.033,.043,.052,.062,.071,.081,.09,.1,.11,.12],
  [1.057,.008,.017,.027,.036,.046,.055,.065,.074,.084,.093,.103,.11],
  [1.067,.003,.012,.022,.031,.041,.05,.06,.069,.079,.088,.098],[1.077,.006,.015,.025,.034,.044,.053,.063,.072,.082,.091,.1],
  [1.087,.001,.01,.02,.029,.039,.048,.058,.067,.077,.086,.096],[1.097,.005,.014,.024,.033,.043,.052,.062,.071,.081,.09,.1],
  [1.108,.008,.017,.027,.036,.046,.055,.065,.074,.084,.093,.1],[1.118,.003,.012,.022,.031,.041,.05,.06,.069,.079,.088,.098],
  [1.128,.006,.015,.025,.034,.044,.053,.063,.072,.082,.091,.1],[1.138,.001,.01,.02,.029,.039,.048,.058,.067,.077,.086,.096],
  [1.148,.005,.014,.024,.033,.043,.052,.062,.071,.081,.09,.1],[1.158,.008,.017,.027,.036,.046,.055,.065,.074,.084,.093,.1],
  [1.168,.003,.012,.022,.031,.041,.05,.06,.069,.079,.088,.098,.108,.118],
  [1.176,.006,.015,.025,.034,.044,.053,.063,.072,.082,.091,.101,.111,.121,.131,.14]
];

const yTicks = [0, 0.7, 0.1];

const toPoints = cols => cols.flatMap(c => c.slice(1).map(y => ({ x: c[0], y: y })));

const deco = {
  id: "deco",
  afterDraw(chart, args, o) {
    const { ctx, chartArea: a, scales } = chart;
    ctx.save();
    // top and right frame
    ctx.strokeStyle = "#9a9a9a";
    ctx.lineWidth = 1;
    ctx.beginPath();
    ctx.moveTo(a.left, a.top + 0.5);
    ctx.lineTo(a.right - 0.5, a.top + 0.5);
    ctx.lineTo(a.right - 0.5, a.bottom);
    ctx.stroke();
    // minor ticks
    ctx.strokeStyle = "#444";
    ctx.beginPath();
    const xt = scales.x.ticks, yt = scales.y.ticks;
    for (let i = 1; i < xt.length; i++) {
      const px = Math.round(scales.x.getPixelForValue((xt[i - 1].value + xt[i].value) / 2)) + 0.5;
      ctx.moveTo(px, a.bottom);
      ctx.lineTo(px, a.bottom + 4);
    }
    for (let i = 1; i < yt.length; i++) {
      const py = Math.round(scales.y.getPixelForValue((yt[i - 1].value + yt[i].value) / 2)) + 0.5;
      ctx.moveTo(a.left - 6, py);
      ctx.lineTo(a.left, py);
    }
    ctx.stroke();
    // letter box
    ctx.fillStyle = "#fff";
    ctx.fillRect(a.right - 18, a.top, 18, 18);
    ctx.strokeStyle = "#9a9a9a";
    ctx.strokeRect(a.right - 17.5, a.top + 0.5, 17, 17);
    ctx.fillStyle = "#111";
    ctx.textAlign = "center";
    ctx.textBaseline = "alphabetic";
    ctx.font = 'italic 18px "Liberation Serif"';
    ctx.fillText(o.letter, a.right - 9, a.top + 14);
    // panel title
    ctx.font = 'italic 16px "Liberation Sans"';
    ctx.fillText(o.title, o.titleX, a.top + o.titleDy);
    // epsilon_val
    ctx.textAlign = "left";
    ctx.font = 'italic 19px "Liberation Serif"';
    ctx.fillText("\u03b5", a.left + 8, a.top + 15);
    ctx.font = 'italic 11px "Liberation Serif"';
    ctx.fillText("val", a.left + 17, a.top + 18);
    // x axis title  C_n^2 / C_n,0^2
    const bx = o.axisX, by = a.bottom + 27;
    ctx.font = 'italic 19px "Liberation Serif"';
    ctx.fillText("C", bx, by);
    ctx.fillText("/", bx + 20, by);
    ctx.fillText("C", bx + 28, by);
    ctx.font = '11px "Liberation Serif"';
    ctx.fillText("2", bx + 13, by - 9);
    ctx.fillText("2", bx + 41, by - 9);
    ctx.font = 'italic 11px "Liberation Serif"';
    ctx.fillText("n", bx + 13, by + 4);
    ctx.fillText("n,0", bx + 41, by + 4);
    ctx.restore();
  }
};

function makeChart(id, cols, opt) {
  return new Chart(document.getElementById(id), {
    type: "scatter",
    data: {
      datasets: [{
        data: toPoints(cols),
        pointRadius: 1.9,
        pointHoverRadius: 1.9,
        borderWidth: 0.8,
        borderColor: "#2a2a2a",
        backgroundColor: "rgba(0,0,0,0)",
        clip: false
      }]
    },
    options: {
      animation: false,
      responsive: true,
      maintainAspectRatio: false,
      events: [],
      layout: { padding: { top: opt.padTop, right: opt.padRight, left: 0, bottom: 0 } },
      scales: {
        x: {
          type: "linear",
          min: 0,
          max: opt.xMax,
          afterFit: s => { s.height = opt.axisH; },
          border: { display: true, color: "#555", width: 1.5 },
          grid: { drawOnChartArea: false, drawTicks: true, tickLength: 8, color: "#444" },
          ticks: {
            stepSize: 0.2,
            padding: 3,
            maxRotation: 0,
            autoSkip: false,
            color: "#222",
            font: { family: "Liberation Sans", size: 14 },
            callback: v => (opt.hide.includes(Math.round(v * 10)) ? "" : v.toFixed(1))
          }
        },
        y: {
          min: yTicks[0],
          max: yTicks[1],
          afterFit: s => { s.width = opt.axisW; },
          border: { display: true, color: "#555", width: 1.5 },
          grid: { drawOnChartArea: false, drawTicks: true, tickLength: 12, color: "#444" },
          ticks: {
            stepSize: yTicks[2],
            padding: 3,
            color: "#222",
            font: { family: "Liberation Sans", size: 14 },
            callback: v => v.toFixed(1)
          }
        }
      },
      plugins: {
        legend: { display: false },
        tooltip: { enabled: false },
        deco: opt.deco
      }
    },
    plugins: [deco]
  });
}

makeChart("chart-a", simKoV, {
  xMax: 2.0, hide: [16, 18], padTop: 15, padRight: 7, axisH: 33, axisW: 50,
  deco: { letter: "a", title: "SIM-KO-V", titleX: 248, titleDy: 23, axisX: 367 }
});
makeChart("chart-b", atm1V.concat(atm1VDense), {
  xMax: 1.8, hide: [16], padTop: 20, padRight: 8, axisH: 32, axisW: 49,
  deco: { letter: "b", title: "ATM #1-V", titleX: 236, titleDy: 21, axisX: 380 }
});
makeChart("chart-c", atm2V.concat(atm2VDense), {
  xMax: 1.6, hide: [14], padTop: 22, padRight: 8, axisH: 32, axisW: 49,
  deco: { letter: "c", title: "ATM #2-V", titleX: 247, titleDy: 19, axisX: 375 }
});
</script>
</body>
</html>
